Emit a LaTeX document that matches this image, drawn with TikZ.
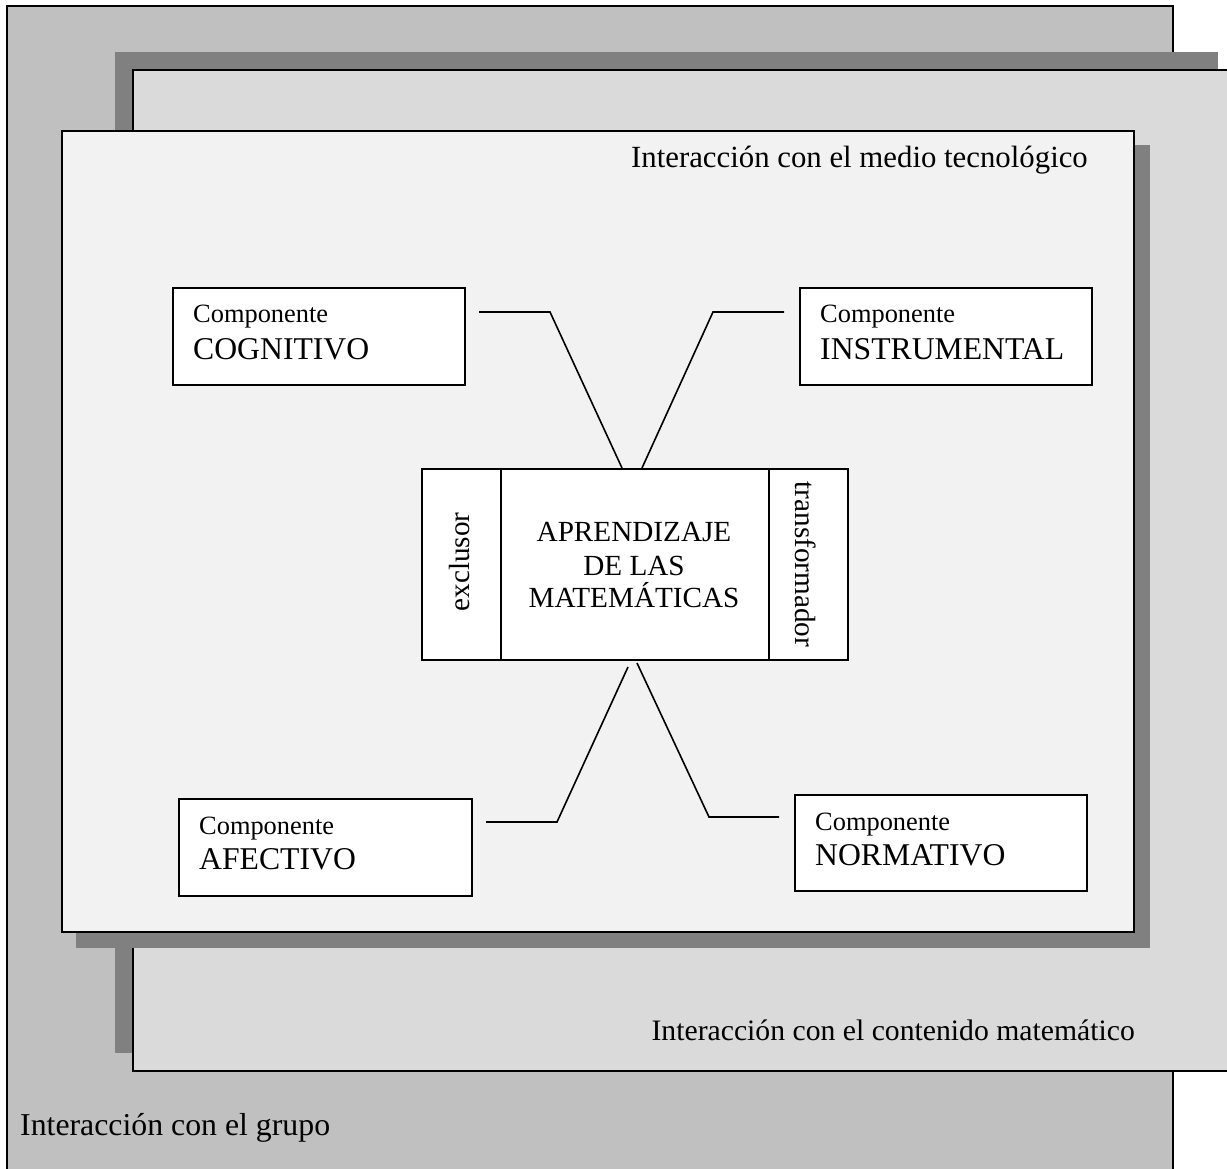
\documentclass[tikz,border=0pt]{standalone}
\usepackage{fontspec}
\setmainfont{Liberation Serif}
\usetikzlibrary{calc}
\definecolor{grupofill}{HTML}{C0C0C0}
\definecolor{contfill}{HTML}{DADADA}
\definecolor{mediofill}{HTML}{F2F2F2}
\definecolor{shadowgray}{HTML}{808080}
\begin{document}
\begin{tikzpicture}[x=1pt,y=-1pt,
  frame/.style={draw=black, line width=1.6pt},
  panel/.style={frame, rectangle, anchor=north west, inner sep=0pt},
  dropshadow/.style={fill=shadowgray, rectangle, anchor=north west, inner sep=0pt},
  compbox/.style={frame, fill=white, rectangle, anchor=north west, inner sep=0pt,
                  minimum width=292pt, minimum height=97pt},
  part/.style={frame, fill=white, rectangle, anchor=north west, inner sep=0pt,
               minimum height=191pt},
  wire/.style={line width=1.6pt, draw=black},
  smalltxt/.style={font=\fontsize{26.4}{30}\selectfont, anchor=base west, inner sep=0pt},
  bigtxt/.style={font=\fontsize{31.7}{36}\selectfont, anchor=base west, inner sep=0pt},
  ctxt/.style={font=\fontsize{29.2}{33}\selectfont, inner sep=0pt},
]
\useasboundingbox (0,0) rectangle (1227,1169);
\fill[white] (0,0) rectangle (1227,1169);

% group level
\node[panel, fill=grupofill, minimum width=1166pt, minimum height=1180pt] (grupo) at (6,5) {};
\node[anchor=base west, inner sep=0pt, font=\fontsize{31.8}{36}\selectfont] (grupolbl) at (20,1135) {Interacción con el grupo};

% mathematical content level, shadow up-left
\node[dropshadow, minimum width=1103pt, minimum height=1001pt] (contshadow) at (115,52) {};
\node[panel, fill=contfill, minimum width=1103pt, minimum height=1001pt] (contenido) at (132,69) {};
\node[anchor=base east, inner sep=0pt, font=\fontsize{29.7}{34}\selectfont] (contlbl) at (1135,1040) {Interacción con el contenido matemático};

% technological medium level, shadow down-right
\node[dropshadow, minimum width=1074pt, minimum height=803pt] (medioshadow) at (76,145) {};
\node[panel, fill=mediofill, minimum width=1072pt, minimum height=801pt] (medio) at (61,130) {};
\node[anchor=base east, inner sep=0pt, font=\fontsize{30.8}{35}\selectfont] (mediolbl) at (1088,168) {Interacción con el medio tecnológico};

% central block
\node[part, minimum width=79pt] (excl) at (421,468) {};
\node[part, minimum width=268pt] (apr) at (500,468) {};
\node[part, minimum width=79pt] (trans) at (768,468) {};
\node[ctxt, rotate=90] (exclt) at (460,562) {exclusor};
\node[ctxt, rotate=-90] (transt) at (806,564.5) {transformador};
\node[ctxt, anchor=base] (l1) at (634,541) {APRENDIZAJE};
\node[ctxt, anchor=base] (l2) at (634,575) {DE LAS};
\node[ctxt, anchor=base] (l3) at (634,607) {MATEMÁTICAS};

% components
\node[compbox] (cog) at (172,287) {};
\node[smalltxt] (cog1) at (193,323) {Componente};
\node[bigtxt] (cog2) at (193,359) {COGNITIVO};

\node[compbox] (ins) at (799,287) {};
\node[smalltxt] (ins1) at (820,323) {Componente};
\node[bigtxt] (ins2) at (820,359) {INSTRUMENTAL};

\node[compbox, minimum width=293pt] (afe) at (178,798) {};
\node[smalltxt] (afe1) at (199,834) {Componente};
\node[bigtxt] (afe2) at (199,869) {AFECTIVO};

\node[compbox, minimum height=96pt] (nor) at (794,794) {};
\node[smalltxt] (nor1) at (815,830) {Componente};
\node[bigtxt] (nor2) at (815,865) {NORMATIVO};

% connectors
\coordinate (cogA) at (479,312);
\coordinate (cogB) at (550,312);
\coordinate (cogC) at (622,468);
\coordinate (insA) at (784,312);
\coordinate (insB) at (713,312);
\coordinate (insC) at (642,468);
\coordinate (afeA) at (486,822);
\coordinate (afeB) at (557,822);
\coordinate (afeC) at (628,667);
\coordinate (norA) at (779,817);
\coordinate (norB) at (709,817);
\coordinate (norC) at (637,663);
\draw[wire] (cogA) -- (cogB) -- (cogC);
\draw[wire] (insA) -- (insB) -- (insC);
\draw[wire] (afeA) -- (afeB) -- (afeC);
\draw[wire] (norA) -- (norB) -- (norC);
\end{tikzpicture}
\end{document}
